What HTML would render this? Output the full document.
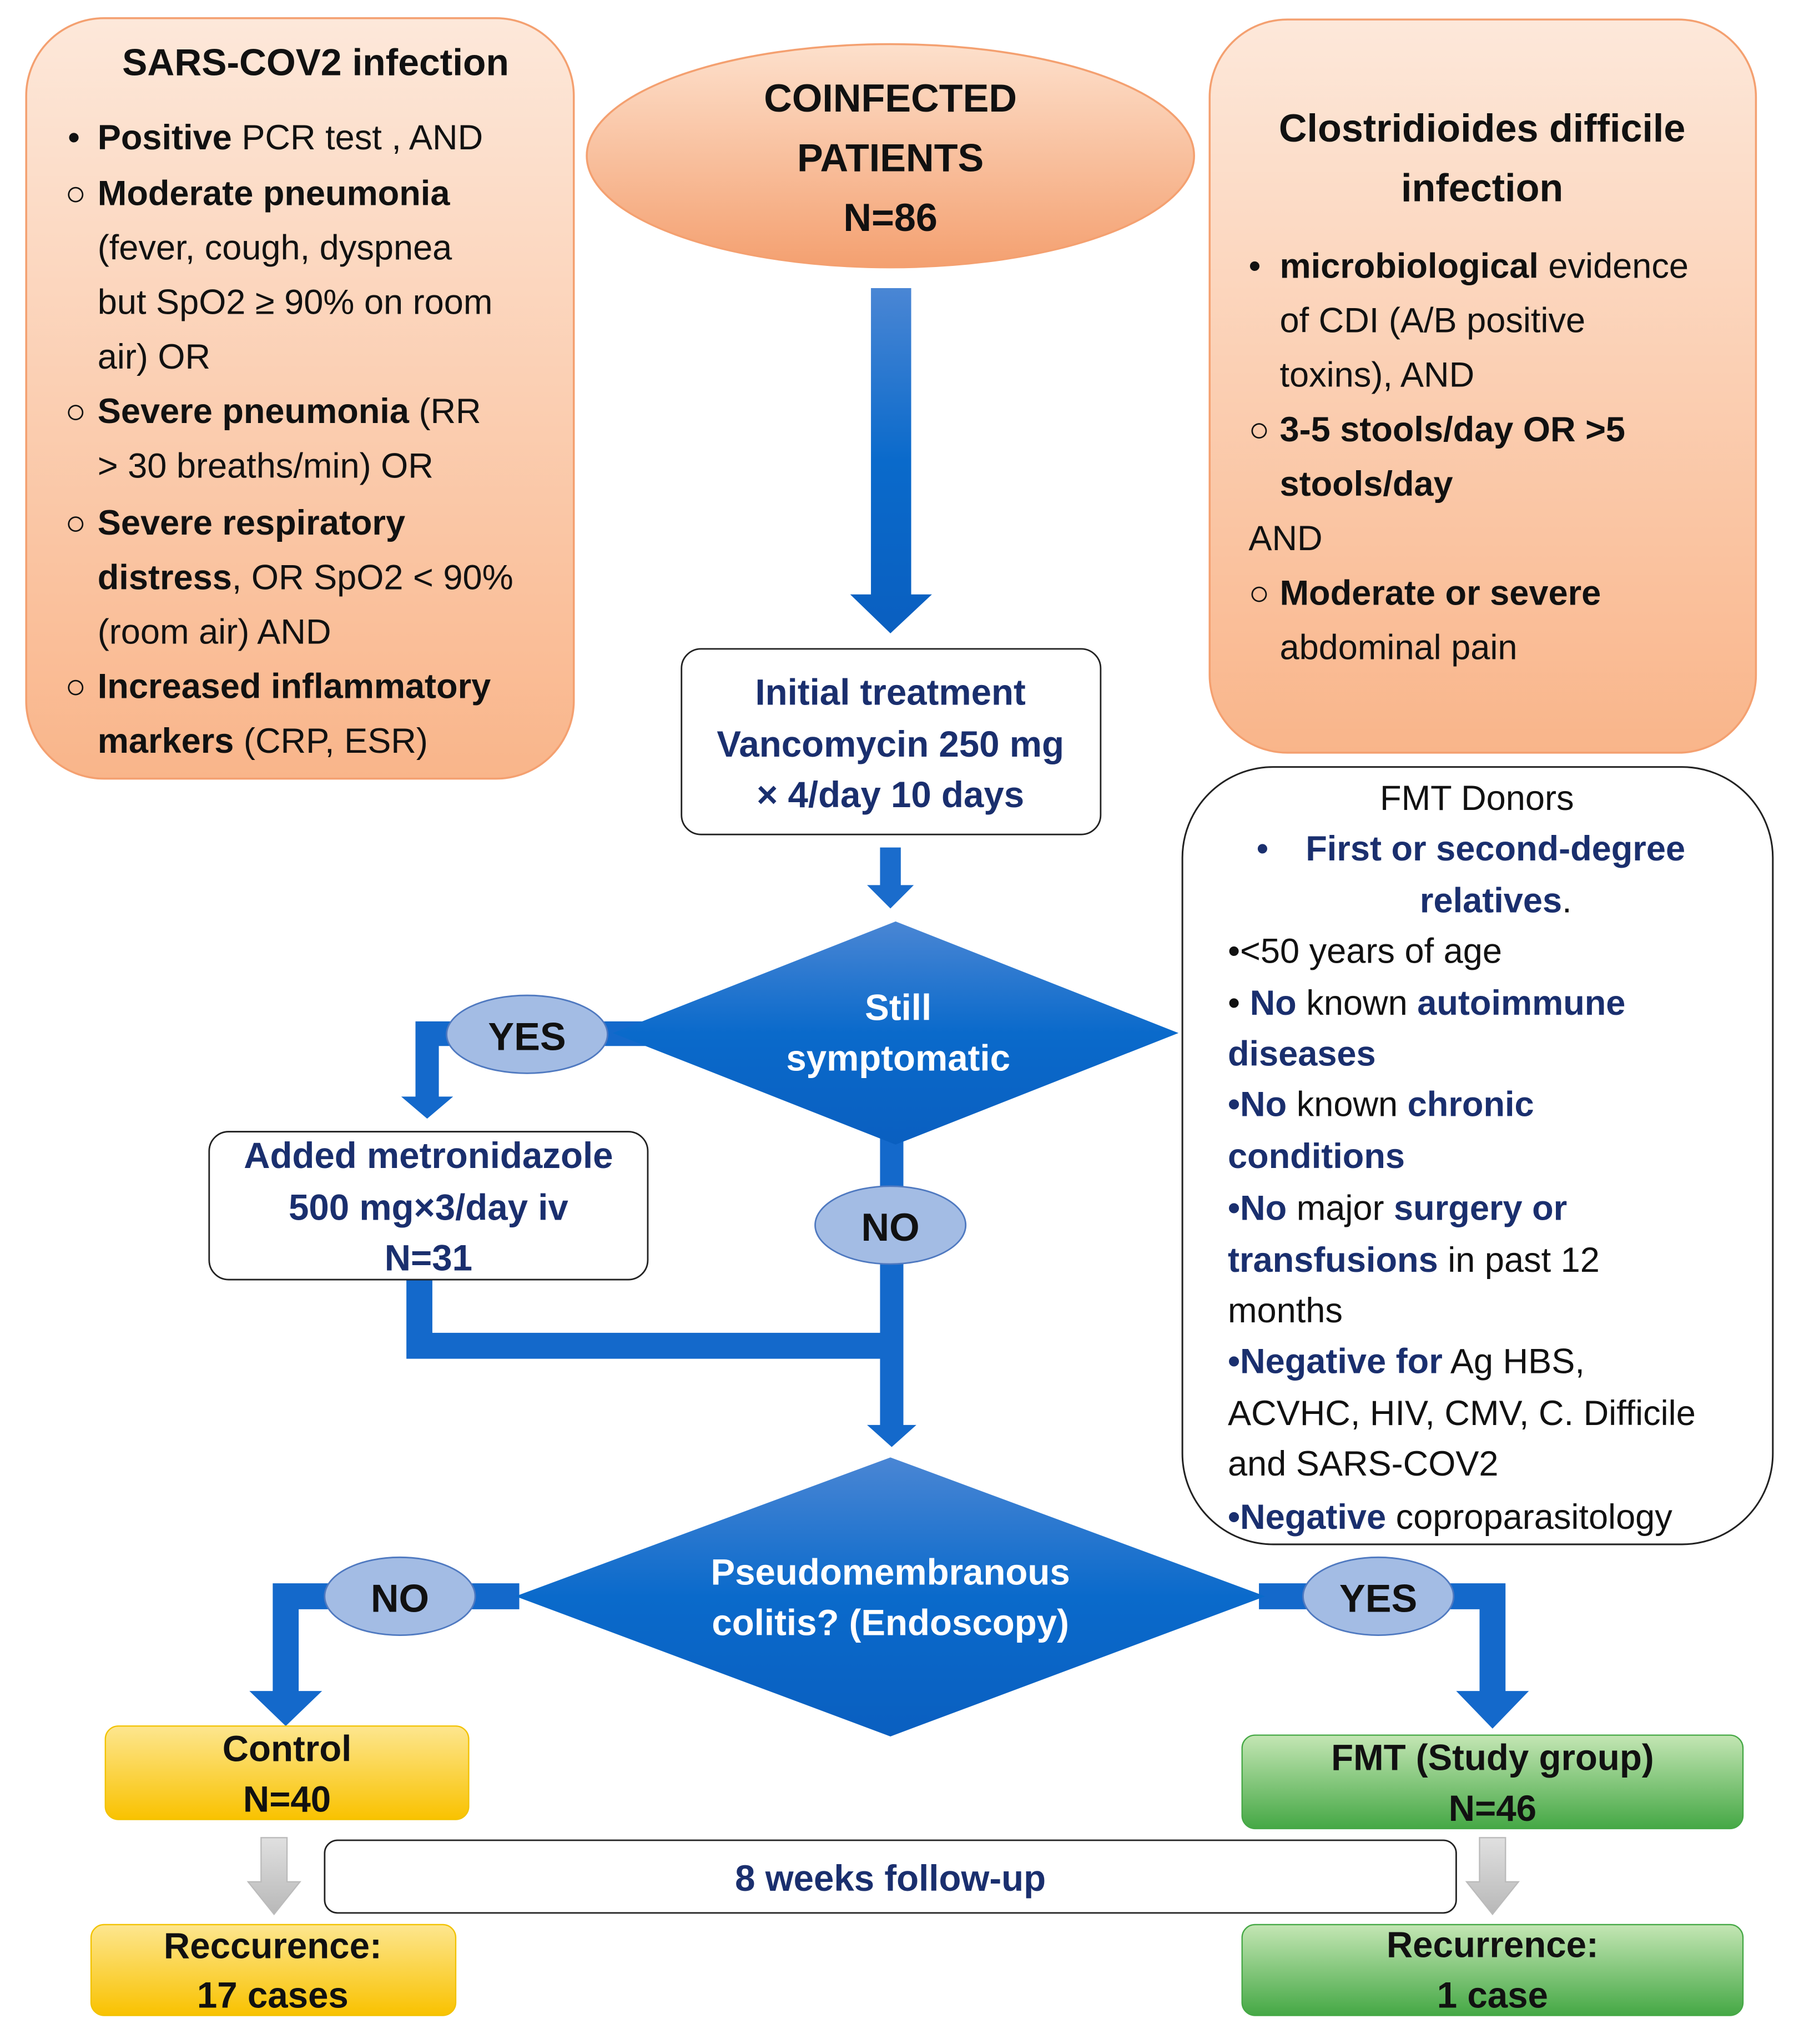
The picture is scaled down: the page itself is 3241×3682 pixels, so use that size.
<!DOCTYPE html>
<html><head><meta charset="utf-8"><style>html,body{margin:0;padding:0;background:#fff}svg{display:block}</style></head>
<body>
<svg xmlns="http://www.w3.org/2000/svg" width="3241" height="3682" viewBox="0 0 1386 1575" font-family="'Liberation Sans', sans-serif">
<defs>
<linearGradient id="peach" x1="0" y1="0" x2="0" y2="1"><stop offset="0" stop-color="#fde8da"/><stop offset="1" stop-color="#f9b58a"/></linearGradient>
<linearGradient id="ell" x1="0" y1="0" x2="0" y2="1"><stop offset="0" stop-color="#fde0cc"/><stop offset="1" stop-color="#f4a070"/></linearGradient>
<linearGradient id="blue" x1="0" y1="0" x2="0" y2="1"><stop offset="0" stop-color="#4a86d4"/><stop offset="0.5" stop-color="#0a6acb"/><stop offset="1" stop-color="#0a5fc0"/></linearGradient>
<linearGradient id="yel" x1="0" y1="0" x2="0" y2="1"><stop offset="0" stop-color="#fde68f"/><stop offset="1" stop-color="#f9c200"/></linearGradient>
<linearGradient id="grn" x1="0" y1="0" x2="0" y2="1"><stop offset="0" stop-color="#c4e6b4"/><stop offset="1" stop-color="#45a845"/></linearGradient>
<linearGradient id="gry" x1="0" y1="0" x2="0" y2="1"><stop offset="0" stop-color="#e0e0e0"/><stop offset="1" stop-color="#b8b8b8"/></linearGradient>
</defs>

<rect x="20" y="14" width="422" height="586" rx="60" fill="url(#peach)" stroke="#f4a070" stroke-width="1.5"/>
<g font-size="27" fill="#111">
<text x="243" y="58" text-anchor="middle" font-weight="bold" font-size="29">SARS-COV2 infection</text>
<text x="52" y="115">•</text><text x="75" y="115"><tspan font-weight="bold">Positive</tspan> PCR test , AND</text>
<text x="50" y="158">○</text><text x="75" y="158" font-weight="bold">Moderate pneumonia</text>
<text x="75" y="200">(fever, cough, dyspnea</text>
<text x="75" y="242">but SpO2 ≥ 90% on room</text>
<text x="75" y="284">air) OR</text>
<text x="50" y="326">○</text><text x="75" y="326"><tspan font-weight="bold">Severe pneumonia</tspan> (RR</text>
<text x="75" y="368">&gt; 30 breaths/min) OR</text>
<text x="50" y="412">○</text><text x="75" y="412" font-weight="bold">Severe respiratory</text>
<text x="75" y="454"><tspan font-weight="bold">distress</tspan>, OR SpO2 &lt; 90%</text>
<text x="75" y="496">(room air) AND</text>
<text x="50" y="538">○</text><text x="75" y="538" font-weight="bold">Increased inflammatory</text>
<text x="75" y="580"><tspan font-weight="bold">markers</tspan> (CRP, ESR)</text>
</g>

<ellipse cx="686" cy="120" rx="234" ry="86" fill="url(#ell)" stroke="#f4a070" stroke-width="1.5"/>
<g font-size="30" font-weight="bold" fill="#111" text-anchor="middle">
<text x="686" y="86">COINFECTED</text><text x="686" y="132">PATIENTS</text><text x="686" y="178">N=86</text>
</g>

<rect x="932" y="15" width="421" height="565" rx="60" fill="url(#peach)" stroke="#f4a070" stroke-width="1.5"/>
<g font-size="27" fill="#111">
<text x="1142" y="109" text-anchor="middle" font-weight="bold" font-size="30">Clostridioides difficile</text>
<text x="1142" y="155" text-anchor="middle" font-weight="bold" font-size="30">infection</text>
<text x="962" y="214">•</text><text x="986" y="214"><tspan font-weight="bold">microbiological</tspan> evidence</text>
<text x="986" y="256">of CDI (A/B positive</text>
<text x="986" y="298">toxins), AND</text>
<text x="962" y="340">○</text><text x="986" y="340" font-weight="bold">3-5 stools/day OR &gt;5</text>
<text x="986" y="382" font-weight="bold">stools/day</text>
<text x="962" y="424">AND</text>
<text x="962" y="466">○</text><text x="986" y="466" font-weight="bold">Moderate or severe</text>
<text x="986" y="508">abdominal pain</text>
</g>

<polygon points="671,222 702,222 702,458 718,458 686,488 655,458 671,458" fill="url(#blue)"/>

<rect x="525" y="500" width="323" height="143" rx="15" fill="#fff" stroke="#222" stroke-width="1.2"/>
<g font-size="28" font-weight="bold" fill="#1a2f6e" text-anchor="middle">
<text x="686" y="543">Initial treatment</text><text x="686" y="583">Vancomycin 250 mg</text><text x="686" y="622">× 4/day 10 days</text>
</g>
<polygon points="678,653 694,653 694,682 704,682 686,700 668,682 678,682" fill="#1a6ccc"/>

<polygon points="320,787 500,787 500,806 338,806 338,845 349,845 329,862 309,845 320,845" fill="#1469cb"/>
<rect x="678" y="860" width="18" height="240" fill="#1469cb"/>
<polygon points="668,1098 706,1098 687,1115" fill="#1469cb"/>
<polygon points="313,986 333,986 333,1027 680,1027 680,1047 313,1047" fill="#1469cb"/>

<polygon points="690,710 908,796 690,882 472,796" fill="url(#blue)"/>
<g font-size="28" font-weight="bold" fill="#fff" text-anchor="middle"><text x="692" y="786">Still</text><text x="692" y="825">symptomatic</text></g>

<ellipse cx="406" cy="797" rx="62" ry="30" fill="#a3bce4" stroke="#4f79c0" stroke-width="1.2"/>
<text x="406" y="809" font-size="30" font-weight="bold" text-anchor="middle" fill="#111">YES</text>
<ellipse cx="686" cy="944" rx="58" ry="30" fill="#a3bce4" stroke="#4f79c0" stroke-width="1.2"/>
<text x="686" y="956" font-size="30" font-weight="bold" text-anchor="middle" fill="#111">NO</text>

<rect x="161" y="872" width="338" height="114" rx="15" fill="#fff" stroke="#222" stroke-width="1.2"/>
<g font-size="28" font-weight="bold" fill="#1a2f6e" text-anchor="middle">
<text x="330" y="900">Added metronidazole</text><text x="330" y="940">500 mg×3/day iv</text><text x="330" y="979">N=31</text>
</g>

<rect x="911" y="591" width="455" height="599" rx="70" fill="#fff" stroke="#222" stroke-width="1.3"/>
<g font-size="27" fill="#111">
<text x="1138" y="624" text-anchor="middle">FMT Donors</text>
<text x="968" y="663" fill="#1a2f6e">•</text><text x="1006" y="663" font-weight="bold" fill="#1a2f6e">First or second-degree</text>
<text x="1094" y="703" font-weight="bold" fill="#1a2f6e">relatives<tspan fill="#111" font-weight="normal">.</tspan></text>
<text x="946" y="742">•&lt;50 years of age</text>
<text x="946" y="782">• <tspan font-weight="bold" fill="#1a2f6e">No</tspan> known <tspan font-weight="bold" fill="#1a2f6e">autoimmune</tspan></text>
<text x="946" y="821" font-weight="bold" fill="#1a2f6e">diseases</text>
<text x="946" y="860"><tspan font-weight="bold" fill="#1a2f6e">•No</tspan> known <tspan font-weight="bold" fill="#1a2f6e">chronic</tspan></text>
<text x="946" y="900" font-weight="bold" fill="#1a2f6e">conditions</text>
<text x="946" y="940"><tspan font-weight="bold" fill="#1a2f6e">•No</tspan> major <tspan font-weight="bold" fill="#1a2f6e">surgery or</tspan></text>
<text x="946" y="980"><tspan font-weight="bold" fill="#1a2f6e">transfusions</tspan> in past 12</text>
<text x="946" y="1019">months</text>
<text x="946" y="1058"><tspan font-weight="bold" fill="#1a2f6e">•Negative for</tspan> Ag HBS,</text>
<text x="946" y="1098">ACVHC, HIV, CMV, C. Difficile</text>
<text x="946" y="1137">and SARS-COV2</text>
<text x="946" y="1178"><tspan font-weight="bold" fill="#1a2f6e">•Negative</tspan> coproparasitology</text>
</g>

<polygon points="210,1220 400,1220 400,1240 230,1240 230,1303 248,1303 220,1330 192,1303 210,1303" fill="#1469cb"/>
<polygon points="970,1220 1160,1220 1160,1303 1178,1303 1150,1332 1122,1303 1140,1303 1140,1240 970,1240" fill="#1469cb"/>
<polygon points="686,1123 975,1230 686,1338 397,1230" fill="url(#blue)"/>
<g font-size="28" font-weight="bold" fill="#fff" text-anchor="middle"><text x="686" y="1221">Pseudomembranous</text><text x="686" y="1260">colitis? (Endoscopy)</text></g>
<ellipse cx="308" cy="1230" rx="58" ry="30" fill="#a3bce4" stroke="#4f79c0" stroke-width="1.2"/>
<text x="308" y="1242" font-size="30" font-weight="bold" text-anchor="middle" fill="#111">NO</text>
<ellipse cx="1062" cy="1230" rx="58" ry="30" fill="#a3bce4" stroke="#4f79c0" stroke-width="1.2"/>
<text x="1062" y="1242" font-size="30" font-weight="bold" text-anchor="middle" fill="#111">YES</text>

<rect x="81" y="1330" width="280" height="72" rx="10" fill="url(#yel)" stroke="#f2c200"/>
<g font-size="28" font-weight="bold" fill="#111" text-anchor="middle"><text x="221" y="1357">Control</text><text x="221" y="1396">N=40</text></g>
<rect x="957" y="1337" width="386" height="72" rx="10" fill="url(#grn)" stroke="#45a845"/>
<g font-size="28" font-weight="bold" fill="#111" text-anchor="middle"><text x="1150" y="1364">FMT (Study group)</text><text x="1150" y="1403">N=46</text></g>

<polygon points="201,1416 221,1416 221,1450 231,1450 211,1475 191,1450 201,1450" fill="url(#gry)" stroke="#bbb"/>
<polygon points="1140,1416 1160,1416 1160,1450 1170,1450 1150,1475 1130,1450 1140,1450" fill="url(#gry)" stroke="#bbb"/>
<rect x="250" y="1418" width="872" height="56" rx="10" fill="#fff" stroke="#222" stroke-width="1.2"/>
<text x="686" y="1457" font-size="28" font-weight="bold" fill="#1a2f6e" text-anchor="middle">8 weeks follow-up</text>

<rect x="70" y="1483" width="281" height="70" rx="10" fill="url(#yel)" stroke="#f2c200"/>
<g font-size="28" font-weight="bold" fill="#111" text-anchor="middle"><text x="210" y="1509">Reccurence:</text><text x="210" y="1547">17 cases</text></g>
<rect x="957" y="1483" width="386" height="70" rx="10" fill="url(#grn)" stroke="#45a845"/>
<g font-size="28" font-weight="bold" fill="#111" text-anchor="middle"><text x="1150" y="1508">Recurrence:</text><text x="1150" y="1547">1 case</text></g>
</svg>
</body></html>
